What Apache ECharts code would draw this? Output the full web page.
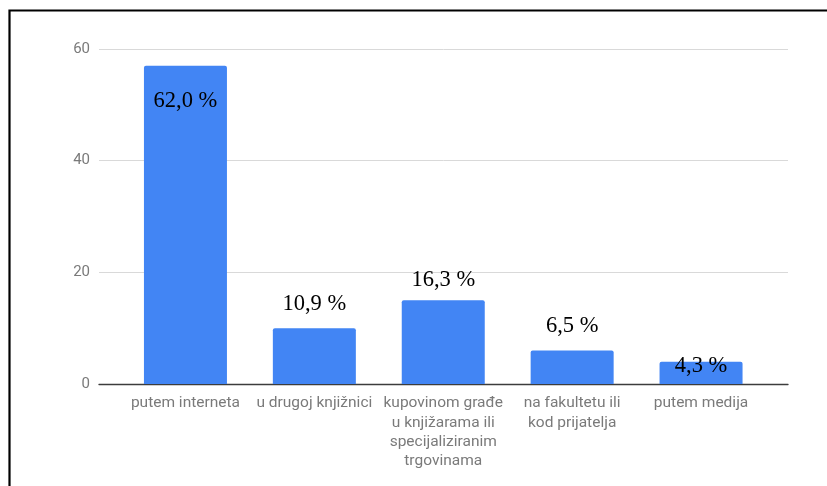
<!DOCTYPE html>
<html>
<head>
<meta charset="utf-8">
<script src="https://cdn.jsdelivr.net/npm/echarts@6/dist/echarts.min.js"></script>
<style>
  html, body { margin: 0; padding: 0; background: #fff; }
  #chart { width: 827px; height: 486px; }
</style>
</head>
<body>
<div id="chart"></div>
<script>
// ---- data ----
const categories = [
  'putem interneta',
  'u drugoj knjižnici',
  'kupovinom građe\nu knjižarama ili\nspecijaliziranim\ntrgovinama',
  'na fakultetu ili\nkod prijatelja',
  'putem medija'
];
const values = [57, 10, 15, 6, 4];
const valueLabels = ['62,0 %', '10,9 %', '16,3 %', '6,5 %', '4,3 %'];
const yTicks = [0, 20, 40, 60];

// ---- label placement (layout only) ----
const labelShiftY = [35, -24, -20, -24, 4];

const chart = echarts.init(document.getElementById('chart'), null, { renderer: 'canvas' });

const gridTop = 49, gridBottom = 102;
const yMin = yTicks[0], yMax = yTicks[yTicks.length - 1], yStep = yTicks[1] - yTicks[0];

chart.setOption({
  animation: false,
  backgroundColor: '#ffffff',
  grid: [
    { left: 99, right: 39, top: gridTop, bottom: gridBottom },
    { left: 121, right: 61.5, top: gridTop, bottom: gridBottom }
  ],
  xAxis: [
    {
      gridIndex: 0, type: 'value', min: 0, max: 1,
      axisLine: { show: true, lineStyle: { color: '#3c3c3c', width: 1.3 } },
      axisTick: { show: false }, axisLabel: { show: false }, splitLine: { show: false }
    },
    {
      gridIndex: 1, type: 'category', data: categories,
      axisLine: { show: false }, axisTick: { show: false },
      axisLabel: {
        interval: 0, margin: 10, color: '#7a7a7a',
        fontFamily: 'Roboto', fontSize: 15.5, lineHeight: 19.2
      }
    }
  ],
  yAxis: [
    {
      gridIndex: 0, type: 'value', min: yMin, max: yMax, interval: yStep,
      axisLine: { show: false }, axisTick: { show: false },
      axisLabel: { margin: 9, color: '#7a7a7a', fontFamily: 'Roboto', fontSize: 15 },
      splitLine: { show: true, lineStyle: { color: '#d9d9d9', width: 1 } }
    },
    {
      gridIndex: 1, type: 'value', min: yMin, max: yMax, interval: yStep,
      show: false, splitLine: { show: false }
    }
  ],
  series: [{
    type: 'bar',
    xAxisIndex: 1, yAxisIndex: 1,
    barWidth: 83,
    itemStyle: { color: '#4285F4', borderRadius: [2, 2, 0, 0] },
    data: values.map((v, i) => ({
      value: v,
      label: {
        show: true,
        position: 'top',
        distance: 0,
        verticalAlign: 'middle',
        offset: [0, labelShiftY[i]],
        formatter: () => valueLabels[i],
        color: '#000000',
        fontFamily: 'Liberation Serif',
        fontSize: 22.5
      }
    }))
  }],
  graphic: [{
    type: 'polyline',
    silent: true,
    shape: { points: [[9.5, 486], [9.5, 10.5], [827, 10.5]] },
    style: { stroke: '#000000', lineWidth: 2.2, fill: null }
  }]
});
</script>
</body>
</html>
